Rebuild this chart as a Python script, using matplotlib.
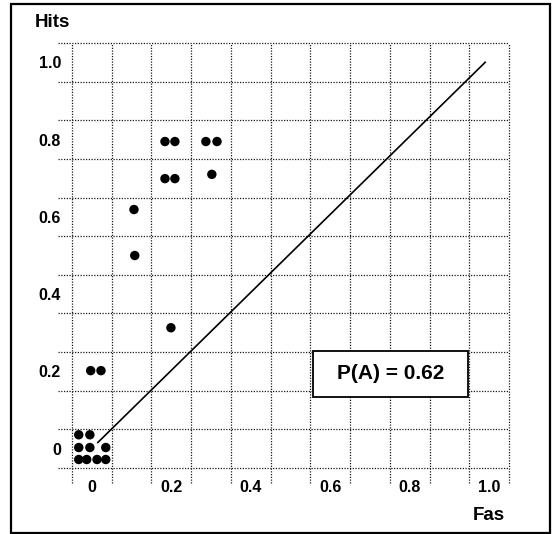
import numpy as np
import matplotlib
matplotlib.use("Agg")
import matplotlib.pyplot as plt
from matplotlib.patches import Rectangle

plt.rcParams['font.family'] = ['Liberation Sans', 'DejaVu Sans']
plt.rcParams['font.weight'] = 'bold'

# points as drawn (ties at the same spot are spread out a little)
fas = [-0.033, -0.005,
       -0.033, -0.005, 0.035,
       -0.033, -0.013, 0.013, 0.035,
       -0.003, 0.023,
       0.199,
       0.108, 0.106,
       0.184, 0.209, 0.302,
       0.184, 0.209, 0.287, 0.315]
hits = [0.036, 0.036,
        0.003, 0.003, 0.003,
        -0.028, -0.028, -0.028, -0.028,
        0.202, 0.202,
        0.313,
        0.500, 0.619,
        0.699, 0.699, 0.710,
        0.795, 0.795, 0.795, 0.795]

diag_x = [0.015, 0.99]
diag_y = [0.016, 1.0]

tick_vals = [0, 0.2, 0.4, 0.6, 0.8, 1.0]
x_labels = ['0', '0.2', '0.4', '0.6', '0.8', '1.0']
y_labels = ['0', '0.2', '0.4', '0.6', '0.8', '1.0']
grid_pos = np.arange(-0.05, 1.06, 0.1)

fig = plt.figure(figsize=(5.56, 5.34), dpi=100)
ax = fig.add_axes([72 / 556, 66 / 534, 437 / 556, 425 / 534])
ax.set_xlim(-0.05, 1.05)
ax.set_ylim(-0.05, 1.05)
for s in ax.spines.values():
    s.set_visible(False)

# dotted grid, running a bit past the left and bottom edges
ax.vlines(grid_pos, -0.088, 1.05, colors='0.1', linestyles=(0, (1, 1.2)),
          linewidth=0.9, clip_on=False, zorder=1)
ax.hlines(grid_pos, -0.085, 1.05, colors='0.1', linestyles=(0, (1, 1.2)),
          linewidth=0.9, clip_on=False, zorder=1)

ax.plot(diag_x, diag_y, color='black', linewidth=1.2, zorder=2)
ax.scatter(fas, hits, s=46, color='black', edgecolors='none', zorder=3)

ax.set_xticks(tick_vals, x_labels)
ax.set_yticks(tick_vals, y_labels)
ax.tick_params(length=0, labelsize=11.5)
ax.tick_params(axis='x', pad=9)
ax.tick_params(axis='y', pad=8)

ax.add_patch(Rectangle((0.557, 0.135), 0.39, 0.119, facecolor='white',
                       edgecolor='black', linewidth=1.3, zorder=4))
ax.text(0.752, 0.194, 'P(A) = 0.62', ha='center', va='center',
        fontsize=15, fontweight='bold', zorder=5)

fig.text(35 / 556, 1 - 27 / 534, 'Hits', fontsize=13.5, fontweight='bold',
         ha='left', va='baseline')
fig.text(505 / 556, 1 - 520 / 534, 'Fas', fontsize=13.5, fontweight='bold',
         ha='right', va='baseline')

fig.patches.append(Rectangle((11 / 556, 1 - 533 / 534), 539 / 556, 529 / 534,
                             transform=fig.transFigure, fill=False,
                             edgecolor='black', linewidth=1.6))

fig.savefig('out.png', dpi=100)
